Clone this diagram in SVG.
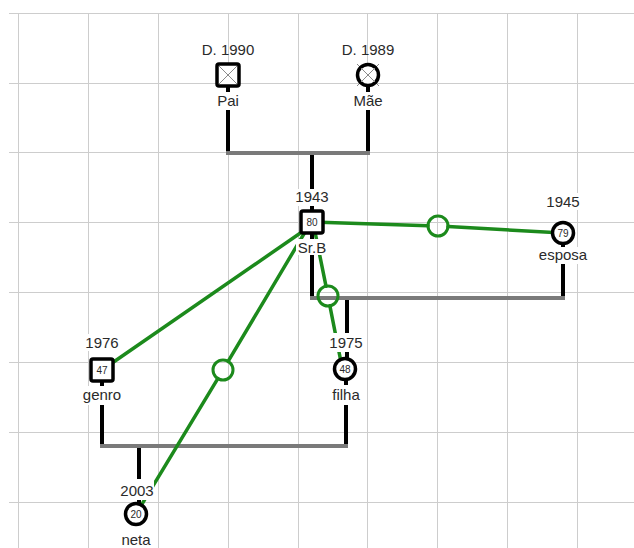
<svg xmlns="http://www.w3.org/2000/svg" width="634" height="548" viewBox="0 0 634 548">
  <style>
    .grid line { stroke: #cdcdcd; stroke-width: 1; }
    .kin { stroke: #000; stroke-width: 4; fill: none; }
    .bar { stroke: #7a7a7a; stroke-width: 4; fill: none; }
    .rel { stroke: #1c8a1c; stroke-width: 3.5; fill: none; stroke-linecap: round; }
    .relmark { stroke: #1c8a1c; stroke-width: 3; fill: none; }
    .male { fill: #fff; stroke: #000; stroke-width: 3.5; }
    .female { fill: #fff; stroke: #000; stroke-width: 3.5; }
    .dead { stroke: #8a8a8a; stroke-width: 1; }
    .lbl { font-family: "Liberation Sans", Arial, sans-serif; font-size: 15px; fill: #2a2a2a; text-anchor: middle; }
    .age { font-family: "Liberation Sans", Arial, sans-serif; font-size: 10px; fill: #2a2a2a; text-anchor: middle; }
    .bg { fill: #fff; }
  </style>

  <rect x="0" y="0" width="634" height="548" fill="#fff"/>

  <!-- background grid -->
  <g class="grid">
    <line x1="9" y1="13.5" x2="634" y2="13.5"/>
    <line x1="9" y1="83.5" x2="634" y2="83.5"/>
    <line x1="9" y1="152.5" x2="634" y2="152.5"/>
    <line x1="9" y1="222.5" x2="634" y2="222.5"/>
    <line x1="9" y1="292.5" x2="634" y2="292.5"/>
    <line x1="9" y1="362.5" x2="634" y2="362.5"/>
    <line x1="9" y1="432.5" x2="634" y2="432.5"/>
    <line x1="9" y1="502.5" x2="634" y2="502.5"/>
    <line x1="18.5" y1="13" x2="18.5" y2="548"/>
    <line x1="88.5" y1="13" x2="88.5" y2="548"/>
    <line x1="158.5" y1="13" x2="158.5" y2="548"/>
    <line x1="228.5" y1="13" x2="228.5" y2="548"/>
    <line x1="298.5" y1="13" x2="298.5" y2="548"/>
    <line x1="367.5" y1="13" x2="367.5" y2="548"/>
    <line x1="437.5" y1="13" x2="437.5" y2="548"/>
    <line x1="507.5" y1="13" x2="507.5" y2="548"/>
    <line x1="577.5" y1="13" x2="577.5" y2="548"/>
  </g>

  <!-- connectors -->
  <g id="connectors">
    <!-- parents of Sr.B -->
    <line class="kin" x1="228" y1="86" x2="228" y2="153"/>
    <line class="kin" x1="368" y1="86" x2="368" y2="153"/>
    <line class="kin" x1="312" y1="153" x2="312" y2="211"/>
    <line class="bar" x1="226" y1="153" x2="370" y2="153"/>
    <!-- Sr.B + esposa -->
    <line class="kin" x1="312" y1="233" x2="312" y2="298"/>
    <line class="kin" x1="563" y1="243" x2="563" y2="298"/>
    <line class="kin" x1="347" y1="298" x2="347" y2="358"/>
    <line class="bar" x1="310" y1="298" x2="565" y2="298"/>
    <!-- genro + filha -->
    <line class="kin" x1="102" y1="381" x2="102" y2="446"/>
    <line class="kin" x1="346" y1="380" x2="346" y2="446"/>
    <line class="kin" x1="139" y1="446" x2="139" y2="503"/>
    <line class="bar" x1="100" y1="446" x2="348" y2="446"/>

    <!-- relationship lines -->
    <line class="rel" x1="312" y1="222" x2="428" y2="225.7"/>
    <line class="rel" x1="448" y1="226.6" x2="563" y2="233"/>
    <circle class="relmark" cx="438" cy="226" r="10"/>

    <line class="rel" x1="312" y1="225" x2="102" y2="370"/>

    <line class="rel" x1="311" y1="222" x2="228.1" y2="361.4"/>
    <line class="rel" x1="217.8" y1="378.6" x2="136" y2="514"/>
    <circle class="relmark" cx="223" cy="370" r="10"/>

    <line class="rel" x1="313" y1="222" x2="326" y2="286.2"/>
    <line class="rel" x1="329.9" y1="305.8" x2="341" y2="362"/>
    <circle class="relmark" cx="328" cy="296" r="10"/>
  </g>

  <!-- Pai -->
  <g id="pai">
    <text class="lbl" x="228" y="55">D. 1990</text>
    <rect class="bg" x="214" y="92" width="28" height="18"/>
    <text class="lbl" x="228" y="106">Pai</text>
    <rect class="male" x="217" y="64" width="22" height="22" rx="2"/>
    <line class="dead" x1="219" y1="66" x2="237" y2="84"/>
    <line class="dead" x1="237" y1="66" x2="219" y2="84"/>
  </g>

  <!-- Mãe -->
  <g id="mae">
    <text class="lbl" x="368" y="55">D. 1989</text>
    <rect class="bg" x="351" y="92" width="34" height="18"/>
    <text class="lbl" x="368" y="106">Mãe</text>
    <line class="dead" x1="357" y1="64" x2="379" y2="86" stroke="#bbb"/>
    <line class="dead" x1="379" y1="64" x2="357" y2="86" stroke="#bbb"/>
    <circle class="female" cx="368" cy="75" r="10.5"/>
    <line class="dead" x1="361" y1="68" x2="375" y2="82"/>
    <line class="dead" x1="375" y1="68" x2="361" y2="82"/>
  </g>

  <!-- Sr.B -->
  <g id="srb">
    <rect class="bg" x="295" y="189" width="34" height="17"/>
    <text class="lbl" x="312" y="202">1943</text>
    <rect class="bg" x="296" y="239" width="32" height="16"/>
    <text class="lbl" x="312" y="253">Sr.B</text>
    <rect class="male" x="301" y="211" width="22" height="22" rx="2"/>
    <text class="age" x="312" y="225.5">80</text>
  </g>

  <!-- esposa -->
  <g id="esposa">
    <rect class="bg" x="546" y="193" width="34" height="17"/>
    <text class="lbl" x="563" y="207">1945</text>
    <rect class="bg" x="537" y="247" width="52" height="17"/>
    <text class="lbl" x="563" y="260">esposa</text>
    <circle class="female" cx="563" cy="233" r="10.5"/>
    <text class="age" x="563" y="236.5">79</text>
  </g>

  <!-- genro -->
  <g id="genro">
    <rect class="bg" x="85" y="334" width="34" height="17"/>
    <text class="lbl" x="102" y="348">1976</text>
    <rect class="bg" x="82" y="386" width="40" height="19"/>
    <text class="lbl" x="102" y="400">genro</text>
    <rect class="male" x="91" y="359" width="22" height="22" rx="2"/>
    <text class="age" x="102" y="373.5">47</text>
  </g>

  <!-- filha -->
  <g id="filha">
    <rect class="bg" x="329" y="333" width="34" height="19"/>
    <text class="lbl" x="346" y="348">1975</text>
    <rect class="bg" x="330" y="385" width="32" height="20"/>
    <text class="lbl" x="346" y="400">filha</text>
    <circle class="female" cx="345" cy="369" r="10.5"/>
    <text class="age" x="345" y="372.5">48</text>
  </g>

  <!-- neta -->
  <g id="neta">
    <rect class="bg" x="120" y="479" width="34" height="21"/>
    <text class="lbl" x="137" y="496">2003</text>
    <rect class="bg" x="121" y="532" width="30" height="16"/>
    <text class="lbl" x="136" y="545">neta</text>
    <circle class="female" cx="136" cy="514" r="10.5"/>
    <text class="age" x="136" y="517.5">20</text>
  </g>
</svg>
